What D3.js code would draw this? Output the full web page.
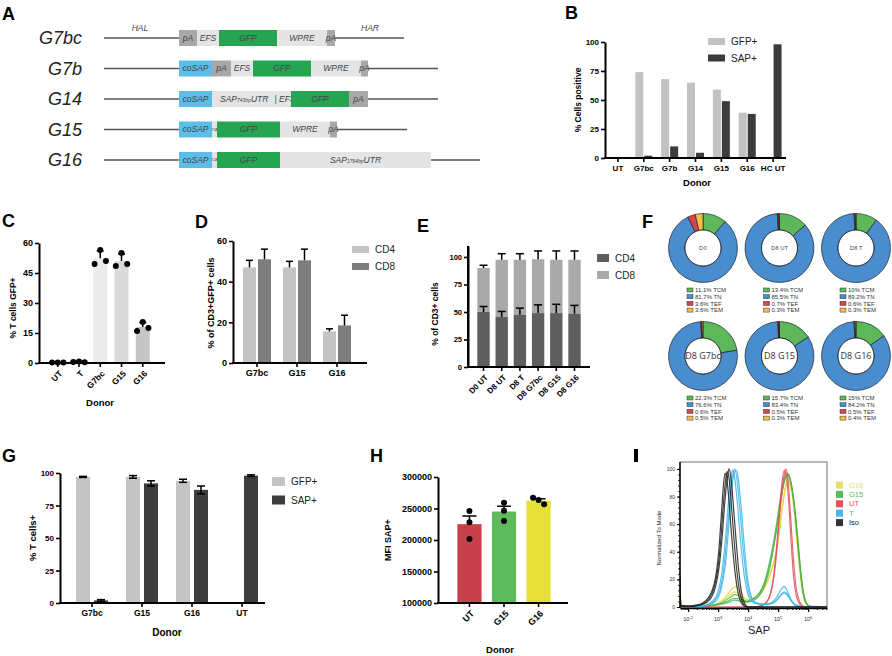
<!DOCTYPE html>
<html>
<head>
<meta charset="utf-8">
<script src="https://cdn.jsdelivr.net/npm/d3@7"></script>
<style>
body { margin: 0; background: #fff; }
svg { display: block; font-family: "Liberation Sans", Arial, sans-serif; }
</style>
</head>
<body>
<svg id="fig" width="892" height="656"></svg>
<script>
// ---------- data ----------
// A: vector maps (segment lengths in arbitrary units)
const constructNames = ["G7bc", "G7b", "G14", "G15", "G16"];
const constructLead = [75, 75, 75, 75, 75];
const constructTrail = [69, 70, 70, 70, 49];
const constructParts = [
  [["pA", "pa", 18], ["EFS", "light", 22], ["GFP", "gfp", 58], ["WPRE", "light", 50], ["pA", "pa", 8]],
  [["coSAP", "sap", 33], ["pA", "pa", 19], ["EFS", "light", 22], ["GFP", "gfp", 58], ["WPRE", "light", 50], ["pA", "pa", 7]],
  [["coSAP", "sap", 33], ["SAP743", "light", 79], ["GFP", "gfp", 58], ["pA", "pa", 19]],
  [["coSAP", "sap", 33], ["T2A", "light", 5], ["GFP", "gfp", 63], ["WPRE", "light", 50], ["pA", "pa", 7]],
  [["coSAP", "sap", 33], ["T2A", "light", 5], ["GFP", "gfp", 63], ["SAP1764", "light", 151]]
];
const armLabels = [["HAL", 36], ["HAR", 266]];

// B
const bCats = ["UT", "G7bc", "G7b", "G14", "G15", "G16", "HC UT"];
const bGfp = [0, 74, 68, 65, 59, 39, 0];
const bSap = [0, 2, 10, 4.5, 49, 38, 98];

// C
const cCats = ["UT", "T", "G7bc", "G15", "G16"];
const cPoints = [[0.3, 0.3, 0.3], [0.5, 0.8, 0.4], [49.5, 56.5, 51], [48.5, 55, 49.5], [16, 20.5, 17.5]];

// D
const dCats = ["G7bc", "G15", "G16"];
const dCd4 = [47, 47, 15.5];
const dCd4Err = [3.5, 3, 1.3];
const dCd8 = [51, 50.5, 18.5];
const dCd8Err = [5, 5.5, 5];

// E
const eCats = ["D0 UT", "D8 UT", "D8 T", "D8 G7bc", "D8 G15", "D8 G16"];
const eCd4 = [50, 45.5, 47.5, 49, 49, 48.5];
const eCd4Err = [5, 5, 6, 7.5, 8, 7.5];
const eCd8 = [40, 52, 50, 49, 48.5, 49];
const eCd8Err = [2.5, 5.5, 5.5, 7.5, 8, 8];

// F
const fSamples = ["D0", "D8 UT", "D8 T", "D8 G7bc", "D8 G15", "D8 G16"];
const fSubsets = ["TCM", "TN", "TEF", "TEM"];
const fTcm = [11.1, 13.4, 10, 22.3, 15.7, 15];
const fTn = [81.7, 85.5, 89.2, 76.6, 83.4, 84.2];
const fTef = [3.6, 0.7, 0.6, 0.6, 0.5, 0.5];
const fTem = [3.6, 0.3, 0.3, 0.5, 0.3, 0.4];

// G
const gCats = ["G7bc", "G15", "G16", "UT"];
const gGfp = [97, 97, 94, 0];
const gGfpErr = [0.4, 1, 1.2, 0];
const gSap = [2, 92, 87, 98];
const gSapErr = [0.6, 2, 3, 0.6];

// H
const hCats = ["UT", "G15", "G16"];
const hPoints = [[246000, 228000, 201600], [259000, 246500, 230000], [267000, 263500, 256700]];

// I: histograms, [log10 SAP, % of mode]
const isoA = [[1.73,22],[1.76,1],[2.0,0.5],[2.3,1.5],[2.5,3],[2.65,6],[2.8,12],[2.92,22],[3.02,40],[3.1,64],[3.17,86],[3.23,97],[3.28,95],[3.35,80],[3.45,52],[3.55,28],[3.65,12],[3.75,4],[3.85,1],[3.95,0],[6.63,0]];
const isoB = [[1.73,14],[1.76,1],[2.0,0.5],[2.3,1],[2.5,2.5],[2.7,6],[2.85,13],[2.98,26],[3.08,46],[3.16,70],[3.24,90],[3.3,98],[3.36,94],[3.43,78],[3.52,52],[3.62,27],[3.72,11],[3.82,3],[3.92,0.5],[4.0,0],[6.63,0]];
const isoC = [[1.73,8],[1.76,0.5],[2.1,0.5],[2.4,1.5],[2.6,3],[2.78,7],[2.92,15],[3.04,30],[3.14,52],[3.22,75],[3.3,92],[3.36,100],[3.42,95],[3.5,76],[3.6,48],[3.7,24],[3.8,8],[3.9,2],[4.0,0],[6.63,0]];
const tA = [[1.73,6],[1.76,0.5],[2.3,0.5],[2.6,1.5],[2.8,4],[2.98,10],[3.12,24],[3.24,48],[3.34,75],[3.42,93],[3.48,99],[3.55,94],[3.64,76],[3.74,50],[3.84,28],[3.94,14],[4.05,6],[4.2,3],[4.4,2],[4.6,2],[4.8,3.5],[4.95,7],[5.08,12],[5.2,15],[5.3,12],[5.42,6],[5.55,2],[5.75,0.5],[6.0,0],[6.63,0]];
const tB = [[1.73,4],[1.76,0.5],[2.4,0.5],[2.7,2],[2.9,5],[3.06,12],[3.2,30],[3.32,58],[3.42,84],[3.5,97],[3.56,100],[3.63,92],[3.72,72],[3.82,46],[3.92,25],[4.02,11],[4.15,5],[4.35,2.5],[4.6,2],[4.85,3],[5.0,6],[5.12,9],[5.22,10],[5.32,8],[5.45,4],[5.6,1],[5.9,0],[6.63,0]];
const tC = [[1.73,3],[1.76,0.5],[2.4,0.5],[2.75,2],[2.95,5],[3.1,13],[3.25,32],[3.37,62],[3.47,88],[3.55,98],[3.62,99],[3.7,88],[3.8,64],[3.9,38],[4.0,18],[4.1,8],[4.25,3],[4.5,2],[4.75,2.5],[4.95,5],[5.1,9],[5.22,11],[5.32,9],[5.45,4],[5.6,1],[5.9,0],[6.63,0]];
const utA = [[1.73,2],[1.76,0],[4.2,0],[4.45,1],[4.6,3],[4.74,9],[4.85,22],[4.95,44],[5.05,70],[5.13,90],[5.2,99],[5.27,96],[5.34,80],[5.42,52],[5.5,26],[5.6,9],[5.72,2],[5.85,0],[6.63,0]];
const utB = [[1.73,1],[1.76,0],[4.25,0],[4.5,1.5],[4.66,5],[4.8,14],[4.92,32],[5.02,58],[5.12,82],[5.2,95],[5.26,100],[5.33,92],[5.41,68],[5.5,38],[5.6,14],[5.72,4],[5.85,0.5],[6.0,0],[6.63,0]];
const g15A = [[1.73,10],[1.76,0.5],[2.4,0.5],[2.9,1.5],[3.2,4],[3.4,7],[3.55,9],[3.7,8],[3.85,5],[3.98,4],[4.12,5],[4.28,8],[4.45,13],[4.6,22],[4.72,33],[4.84,46],[4.96,62],[5.06,77],[5.16,89],[5.24,95],[5.32,96],[5.4,92],[5.48,83],[5.56,70],[5.64,52],[5.72,32],[5.8,16],[5.88,6],[5.98,1.5],[6.1,0],[6.63,0]];
const g15B = [[1.73,5],[1.76,0.5],[2.5,0.5],[3.0,2],[3.3,4],[3.5,6],[3.65,6],[3.8,5],[3.95,4],[4.1,5],[4.25,7],[4.42,11],[4.58,19],[4.72,30],[4.86,45],[4.98,61],[5.1,79],[5.2,91],[5.28,97],[5.36,96],[5.44,89],[5.52,77],[5.6,60],[5.68,40],[5.76,22],[5.84,9],[5.94,2.5],[6.05,0.5],[6.63,0]];
const g15C = [[1.73,3],[1.76,0.5],[2.5,0.5],[3.0,1.5],[3.3,3],[3.55,5],[3.8,4],[4.0,3.5],[4.2,5],[4.4,9],[4.56,16],[4.7,26],[4.84,42],[4.96,58],[5.08,75],[5.18,88],[5.27,94],[5.35,95],[5.43,90],[5.52,78],[5.6,62],[5.68,44],[5.76,25],[5.84,11],[5.94,3],[6.05,0.5],[6.63,0]];
const g16A = [[1.73,30],[1.76,1],[2.4,0.5],[2.9,2],[3.15,5],[3.35,10],[3.5,14],[3.62,15],[3.75,11],[3.9,6],[4.05,5],[4.2,6],[4.38,9],[4.55,14],[4.7,22],[4.84,31],[4.96,42],[5.06,58],[5.15,74],[5.24,87],[5.32,93],[5.4,90],[5.48,80],[5.56,64],[5.64,45],[5.72,27],[5.8,13],[5.9,4],[6.0,1],[6.63,0]];
const g16B = [[1.73,18],[1.76,1],[2.5,0.5],[2.95,2],[3.2,5],[3.4,9],[3.55,11],[3.68,10],[3.82,7],[3.98,5],[4.15,6],[4.32,8],[4.5,12],[4.66,19],[4.8,28],[4.94,40],[5.05,56],[5.15,73],[5.25,86],[5.33,91],[5.41,88],[5.5,77],[5.58,60],[5.66,42],[5.74,25],[5.82,12],[5.92,3.5],[6.02,1],[6.63,0]];
const iLegend = ["G16", "G15", "UT", "T", "Iso"];
const xTickLabelsI = ["-2", "3", "4", "5", "6"];

// ---------- helpers ----------
const FONT = "'Liberation Sans', Arial, sans-serif";
const svg = d3.select("#fig");

function letter(t, x, y) {
  svg.append("text").attr("x", x).attr("y", y)
    .attr("font-size", 18).attr("font-weight", "bold").text(t);
}

function yAxis(scale, x0, ticks, fs) {
  const ax = svg.append("g").attr("transform", `translate(${x0},0)`)
    .call(d3.axisLeft(scale).tickValues(ticks).tickFormat(d3.format("d"))
      .tickSize(4).tickSizeOuter(0).tickPadding(2));
  ax.attr("font-family", FONT);
  ax.select(".domain").attr("stroke-width", 2);
  ax.selectAll(".tick line").attr("stroke-width", 1.6);
  ax.selectAll("text").attr("font-size", fs || 8).attr("font-weight", "bold").attr("fill", "#000");
  return ax;
}

function xAxis(scale, y0, x0, x1, opts) {
  opts = opts || {};
  const ax = svg.append("g").attr("transform", `translate(0,${y0})`)
    .call(d3.axisBottom(scale).tickSize(4).tickSizeOuter(0).tickPadding(opts.pad || 3));
  ax.attr("font-family", FONT);
  ax.select(".domain").remove();
  ax.selectAll(".tick line").attr("stroke-width", 1.6);
  ax.append("line").attr("x1", x0 - 1).attr("x2", x1).attr("stroke", "#000").attr("stroke-width", 2);
  ax.selectAll("text").attr("font-size", opts.fs || 8).attr("font-weight", "bold").attr("fill", "#000");
  if (opts.rotate) {
    ax.selectAll(".tick text").attr("x", 0).attr("y", 0).attr("dy", "0.35em")
      .attr("text-anchor", "end").attr("transform", "translate(3,9) rotate(-45)");
  }
  return ax;
}

function title(t, x, y, fs, rot) {
  svg.append("text").attr("x", x).attr("y", y)
    .attr("transform", rot ? `rotate(-90,${x},${y})` : null)
    .attr("text-anchor", "middle").attr("dominant-baseline", "middle")
    .attr("font-size", fs).attr("font-weight", "bold").text(t);
}

function errBar(x, yFrom, yTo, cap, both, yDown) {
  svg.append("line").attr("x1", x).attr("x2", x).attr("y1", both ? yDown : yFrom).attr("y2", yTo)
    .attr("stroke", "#000").attr("stroke-width", 1.5);
  svg.append("line").attr("x1", x - cap / 2).attr("x2", x + cap / 2).attr("y1", yTo).attr("y2", yTo)
    .attr("stroke", "#000").attr("stroke-width", 1.5);
  if (both) {
    svg.append("line").attr("x1", x - cap / 2).attr("x2", x + cap / 2).attr("y1", yDown).attr("y2", yDown)
      .attr("stroke", "#000").attr("stroke-width", 1.5);
  }
}

function legendBox(items, x, y, step, w, h, fs) {
  items.forEach((it, i) => {
    svg.append("rect").attr("x", x).attr("y", y + i * step - h / 2).attr("width", w).attr("height", h).attr("fill", it[1]);
    svg.append("text").attr("x", x + w + 6).attr("y", y + i * step).attr("dy", "0.35em")
      .attr("font-size", fs).attr("fill", "#222").text(it[0]);
  });
}

// spread dots horizontally when any pair in a column overlaps
function dotOffsets(ys, r, gap) {
  let clash = false;
  for (let i = 0; i < ys.length; i++)
    for (let j = i + 1; j < ys.length; j++)
      if (Math.abs(ys[i] - ys[j]) < 2 * r + 0.5) clash = true;
  return ys.map((d, i) => clash ? (i - (ys.length - 1) / 2) * gap : 0);
}

// ---------- A ----------
letter("A", 2, 20);
const xA = d3.scaleLinear().domain([0, 376]).range([104, 480]);
const yA = d3.scalePoint().domain(constructNames).range([38, 160]);
const partColor = { pa: "#a8a8a8", light: "#e4e4e4", gfp: "#25a552", sap: "#5dbde9" };

constructNames.forEach((name, i) => {
  const cy = yA(name);
  const total = constructLead[i] + d3.sum(constructParts[i], p => p[2]) + constructTrail[i];
  svg.append("line").attr("x1", xA(0)).attr("x2", xA(total)).attr("y1", cy).attr("y2", cy)
    .attr("stroke", "#555").attr("stroke-width", 1.5);
  let pos = constructLead[i];
  constructParts[i].forEach(p => {
    const x0 = xA(pos), x1 = xA(pos + p[2]);
    svg.append("rect").attr("x", x0).attr("y", cy - 8).attr("width", x1 - x0).attr("height", 16)
      .attr("fill", partColor[p[1]]);
    const t = svg.append("text").attr("y", cy).attr("dy", "0.35em").attr("font-style", "italic")
      .attr("font-size", 8.5).attr("fill", "#444");
    if (p[0] === "T2A") {
      t.attr("x", (x0 + x1) / 2).attr("text-anchor", "middle").attr("font-size", 3.5).text("T2A");
    } else if (p[0] === "SAP743") {
      t.attr("x", x0 + 8);
      t.append("tspan").text("SAP");
      t.append("tspan").attr("font-size", 5).text("743bp");
      t.append("tspan").text("UTR");
      t.append("tspan").attr("dx", 6).text("| EFS");
    } else if (p[0] === "SAP1764") {
      t.attr("x", (x0 + x1) / 2).attr("text-anchor", "middle");
      t.append("tspan").text("SAP");
      t.append("tspan").attr("font-size", 5).text("1764bp");
      t.append("tspan").text("UTR");
    } else {
      t.attr("x", (x0 + x1) / 2).attr("text-anchor", "middle").text(p[0]);
    }
    pos += p[2];
  });
  svg.append("text").attr("x", 82).attr("y", cy).attr("dy", "0.35em").attr("text-anchor", "end")
    .attr("font-style", "italic").attr("font-size", 18).attr("fill", "#222").text(name);
});
armLabels.forEach(a => {
  svg.append("text").attr("x", xA(a[1])).attr("y", yA("G7bc") - 7).attr("text-anchor", "middle")
    .attr("font-style", "italic").attr("font-size", 8.5).attr("fill", "#444").text(a[0]);
});

// ---------- B ----------
letter("B", 565, 19);
const xB = d3.scaleBand().domain(bCats).range([605, 786]);
const yB = d3.scaleLinear().domain([0, 100]).range([158, 42]);
bCats.forEach((c, i) => {
  const cx = xB(c) + xB.bandwidth() / 2;
  svg.append("rect").attr("x", cx - 8.5).attr("width", 8).attr("y", yB(bGfp[i])).attr("height", yB(0) - yB(bGfp[i])).attr("fill", "#c2c2c2");
  svg.append("rect").attr("x", cx + 0.5).attr("width", 8).attr("y", yB(bSap[i])).attr("height", yB(0) - yB(bSap[i])).attr("fill", "#3c3c3c");
});
yAxis(yB, 605, [0, 25, 50, 75, 100]);
xAxis(xB, 158, 605, 786);
title("% Cells positive", 579, 100, 8.5, true);
title("Donor", 697, 183, 9.5);
legendBox([["GFP+", "#c2c2c2"], ["SAP+", "#3c3c3c"]], 708, 41.5, 16.5, 17, 7, 10);

// ---------- C ----------
letter("C", 2, 227);
const xC = d3.scaleBand().domain(cCats).range([43.5, 157]).padding(0.34);
const yC = d3.scaleLinear().domain([0, 60]).range([363, 243]);
const cColor = d3.scaleOrdinal().domain(cCats).range(["#eeeeee", "#eeeeee", "#ebebeb", "#dadada", "#c6c6c6"]);
cCats.forEach((c, i) => {
  const m = d3.mean(cPoints[i]), sd = d3.deviation(cPoints[i]);
  const cx = xC(c) + xC.bandwidth() / 2;
  svg.append("rect").attr("x", xC(c)).attr("width", xC.bandwidth()).attr("y", yC(m)).attr("height", yC(0) - yC(m)).attr("fill", cColor(c));
  if (m > 2) errBar(cx, yC(m), yC(m + sd), 7);
  const ys = cPoints[i].map(v => yC(v));
  const off = dotOffsets(ys, 3, 5.7);
  cPoints[i].forEach((v, j) => {
    svg.append("circle").attr("cx", cx + off[j]).attr("cy", yC(v)).attr("r", 3).attr("fill", "#000");
  });
});
yAxis(yC, 39, [0, 15, 30, 45, 60], 9);
xAxis(xC, 363, 39, 165, { rotate: true, fs: 8.5 });
title("% T cells GFP+", 14, 308, 8.5, true);
title("Donor", 100, 403, 9.5);

// ---------- D ----------
letter("D", 195, 228);
const xD = d3.scaleBand().domain(dCats).range([237, 357]);
const yD = d3.scaleLinear().domain([0, 60]).range([363, 241]);
dCats.forEach((c, i) => {
  const cx = xD(c) + xD.bandwidth() / 2;
  svg.append("rect").attr("x", cx - 14).attr("width", 13).attr("y", yD(dCd4[i])).attr("height", yD(0) - yD(dCd4[i])).attr("fill", "#c4c4c4");
  svg.append("rect").attr("x", cx + 1).attr("width", 13).attr("y", yD(dCd8[i])).attr("height", yD(0) - yD(dCd8[i])).attr("fill", "#7d7d7d");
  errBar(cx - 7.5, yD(dCd4[i]), yD(dCd4[i] + dCd4Err[i]), 7);
  errBar(cx + 7.5, yD(dCd8[i]), yD(dCd8[i] + dCd8Err[i]), 7);
});
yAxis(yD, 233, [0, 20, 40, 60], 9);
xAxis(xD, 363, 233, 367, { fs: 9 });
title("% of CD3+GFP+ cells", 212, 303, 9, true);
legendBox([["CD4", "#c4c4c4"], ["CD8", "#7d7d7d"]], 352, 249.5, 17, 17, 7, 10);

// ---------- E ----------
letter("E", 417, 232);
const xE = d3.scaleBand().domain(eCats).range([471.5, 586.5]).padding(0.32);
const yE = d3.scaleLinear().domain([0, 110]).range([367, 246]);
eCats.forEach((c, i) => {
  const cx = xE(c) + xE.bandwidth() / 2;
  const tot = eCd4[i] + eCd8[i];
  svg.append("rect").attr("x", xE(c)).attr("width", xE.bandwidth()).attr("y", yE(tot)).attr("height", yE(eCd4[i]) - yE(tot)).attr("fill", "#a9a9a9");
  svg.append("rect").attr("x", xE(c)).attr("width", xE.bandwidth()).attr("y", yE(eCd4[i])).attr("height", yE(0) - yE(eCd4[i])).attr("fill", "#5e5e5e");
  errBar(cx, yE(eCd4[i]), yE(eCd4[i] + eCd4Err[i]), 8);
  errBar(cx, yE(tot), yE(tot + eCd8Err[i]), 8);
});
svg.append("line").attr("x1", 468).attr("x2", 468).attr("y1", yE(0)).attr("y2", yE(110)).attr("stroke", "#000").attr("stroke-width", 2);
yAxis(yE, 468, [0, 25, 50, 75, 100], 7.5);
xAxis(xE, 367, 468, 590, { rotate: true, fs: 8 });
title("% of CD3+ cells", 436, 314, 8.5, true);
legendBox([["CD4", "#5e5e5e"], ["CD8", "#a9a9a9"]], 597, 258, 17, 12, 8, 10);

// ---------- F ----------
letter("F", 642, 228);
const fColor = d3.scaleOrdinal().domain(fSubsets).range(["#5cb85b", "#4a8dcf", "#d8434c", "#f4be48"]);
const xF = d3.scalePoint().domain([0, 1, 2]).range([703, 856]);
const yF = d3.scalePoint().domain([0, 1]).range([248, 356]);
const pie = d3.pie().sort(null).value(d => d[1]);
const arcF = d3.arc().innerRadius(18).outerRadius(34.5);
fSamples.forEach((s, i) => {
  const cx = xF(i % 3), cy = yF(Math.floor(i / 3));
  const vals = [fTcm[i], fTn[i], fTef[i], fTem[i]];
  const d = fSubsets.map((k, j) => [k, vals[j]]);
  const g = svg.append("g").attr("transform", `translate(${cx},${cy})`);
  g.selectAll("path").data(pie(d)).enter().append("path")
    .attr("d", arcF).attr("fill", p => fColor(p.data[0])).attr("stroke", "#111").attr("stroke-width", 0.6);
  g.append("circle").attr("r", 18).attr("fill", "#fff").attr("stroke", "#111").attr("stroke-width", 0.8);
  g.append("text").attr("text-anchor", "middle").attr("dy", "0.35em")
    .attr("font-size", i < 3 ? 6 : 9).attr("fill", "#333").attr("font-family", "'Open Sans', sans-serif").text(s);
  d.forEach((p, j) => {
    const ly = cy + 42 + j * 6.7;
    svg.append("rect").attr("x", cx - 16).attr("y", ly - 2).attr("width", 6).attr("height", 4)
      .attr("fill", fColor(p[0])).attr("stroke", "#333").attr("stroke-width", 0.5);
    svg.append("text").attr("x", cx - 8).attr("y", ly).attr("dy", "0.35em").attr("font-size", 6)
      .attr("fill", "#333").text(p[1] + "% " + p[0]);
  });
});

// ---------- G ----------
letter("G", 2, 462);
const xG = d3.scaleBand().domain(gCats).range([67, 267]);
const yG = d3.scaleLinear().domain([0, 100]).range([603, 473]);
gCats.forEach((c, i) => {
  const cx = xG(c) + xG.bandwidth() / 2;
  if (gGfp[i] > 0) {
    svg.append("rect").attr("x", cx - 16).attr("width", 14).attr("y", yG(gGfp[i])).attr("height", yG(0) - yG(gGfp[i])).attr("fill", "#c4c4c4");
    errBar(cx - 9, yG(gGfp[i]), yG(gGfp[i] + gGfpErr[i]), 8, true, yG(gGfp[i] - gGfpErr[i]));
  }
  svg.append("rect").attr("x", cx + 2).attr("width", 14).attr("y", yG(gSap[i])).attr("height", yG(0) - yG(gSap[i])).attr("fill", "#3e3e3e");
  errBar(cx + 9, yG(gSap[i]), yG(gSap[i] + gSapErr[i]), 8, true, yG(gSap[i] - gSapErr[i]));
});
yAxis(yG, 60, [0, 25, 50, 75, 100]);
xAxis(xG, 603, 60, 265, { fs: 8.5 });
title("% T cells+", 33, 538, 9.5, true);
title("Donor", 167, 633, 10);
legendBox([["GFP+", "#c4c4c4"], ["SAP+", "#3e3e3e"]], 272, 481.5, 18.5, 13, 9, 10);

// ---------- H ----------
letter("H", 370, 462);
const xH = d3.scaleBand().domain(hCats).range([447, 561]).padding(0.3);
const yH = d3.scaleLinear().domain([100000, 300000]).range([603, 477]);
const hColor = d3.scaleOrdinal().domain(hCats).range(["#c9404b", "#5dba5d", "#e5df38"]);
hCats.forEach((c, i) => {
  const m = d3.mean(hPoints[i]), sem = d3.deviation(hPoints[i]) / Math.sqrt(hPoints[i].length);
  const cx = xH(c) + xH.bandwidth() / 2;
  svg.append("rect").attr("x", xH(c)).attr("width", xH.bandwidth()).attr("y", yH(m)).attr("height", yH(100000) - yH(m)).attr("fill", hColor(c));
  errBar(cx, yH(m), yH(m + sem), 14);
  const ys = hPoints[i].map(v => yH(v));
  const off = dotOffsets(ys, 3, 5.5);
  hPoints[i].forEach((v, j) => {
    svg.append("circle").attr("cx", cx + off[j]).attr("cy", yH(v)).attr("r", 3).attr("fill", "#000");
  });
});
yAxis(yH, 438, [100000, 150000, 200000, 250000, 300000], 9);
xAxis(xH, 603, 438, 568, { rotate: true, fs: 9 });
title("MFI SAP+", 389, 540, 9, true);
title("Donor", 500, 650, 9.5);

// ---------- I ----------
svg.append("rect").attr("x", 634).attr("y", 449).attr("width", 4).attr("height", 13).attr("fill", "#000");
const xI = d3.scaleLog().domain([10 ** 1.73, 10 ** 6.63]).range([680, 827]);
const yI = d3.scaleLinear().domain([0, 105]).range([607, 462]);
svg.append("defs").append("clipPath").attr("id", "clipI").append("rect")
  .attr("x", 680).attr("y", 462).attr("width", 147).attr("height", 146);
const lineI = d3.line().x(d => xI(10 ** d[0])).y(d => yI(d[1])).curve(d3.curveMonotoneX);
const histGroups = [
  [[g16A, g16B], "#dedb3a"],
  [[g15A, g15B, g15C], "#4bb54b"],
  [[utA, utB], "#e0505a"],
  [[tA, tB, tC], "#3db5e8"],
  [[isoA, isoB, isoC], "#222222"]
];
const gI = svg.append("g").attr("clip-path", "url(#clipI)");
histGroups.forEach(h => {
  h[0].forEach(curve => {
    gI.append("path").attr("d", lineI(curve)).attr("fill", "none").attr("stroke", h[1])
      .attr("stroke-width", 1.2).attr("stroke-opacity", 0.85);
  });
});
svg.append("rect").attr("x", 680).attr("y", 462).attr("width", 147).attr("height", 146)
  .attr("fill", "none").attr("stroke", "#333").attr("stroke-width", 0.7);
// y axis with minor ticks
const yAxI = svg.append("g").attr("transform", "translate(680,0)")
  .call(d3.axisLeft(yI).tickValues(d3.range(0, 101, 20)).tickSize(3).tickPadding(2).tickSizeOuter(0));
yAxI.attr("font-family", FONT);
yAxI.select(".domain").remove();
yAxI.selectAll("text").attr("font-size", 5).attr("fill", "#333");
svg.append("g").attr("transform", "translate(680,0)")
  .call(d3.axisLeft(yI).tickValues(d3.range(0, 101, 4)).tickSize(1.8).tickFormat("").tickSizeOuter(0))
  .call(g => g.select(".domain").remove())
  .selectAll("line").attr("stroke-width", 0.9);
svg.append("line").attr("x1", 680).attr("x2", 680).attr("y1", 462).attr("y2", 608).attr("stroke", "#000").attr("stroke-width", 1.4);
// x axis with log minor ticks
const majorI = [1e2, 1e3, 1e4, 1e5, 1e6];
const minorI = [];
[1e1, 1e2, 1e3, 1e4, 1e5, 1e6].forEach(dec => { for (let k = 2; k <= 9; k++) if (dec * k > 10 ** 1.73 && dec * k < 10 ** 6.63) minorI.push(dec * k); });
const xAxI = svg.append("g").attr("transform", "translate(0,608)")
  .call(d3.axisBottom(xI).tickValues(majorI).tickSize(4).tickSizeOuter(0).tickFormat(""));
xAxI.select(".domain").attr("stroke-width", 1.6);
xAxI.selectAll(".tick line").attr("stroke-width", 1.2);
svg.append("g").attr("transform", "translate(0,608)")
  .call(d3.axisBottom(xI).tickValues(minorI).tickSize(2).tickSizeOuter(0).tickFormat(""))
  .call(g => g.select(".domain").remove());
majorI.forEach((v, i) => {
  const t = svg.append("text").attr("x", xI(v)).attr("y", 621).attr("text-anchor", "middle")
    .attr("font-size", 5.5).attr("fill", "#333");
  t.append("tspan").text("10");
  t.append("tspan").attr("font-size", 4).attr("dy", -2.5).text(xTickLabelsI[i]);
});
svg.append("text").attr("x", 659).attr("y", 538).attr("transform", "rotate(-90,659,538)")
  .attr("text-anchor", "middle").attr("dominant-baseline", "middle").attr("font-size", 6).attr("fill", "#222")
  .text("Normalized To Mode");
svg.append("text").attr("x", 759).attr("y", 631).attr("text-anchor", "middle").attr("dominant-baseline", "middle")
  .attr("font-size", 11).attr("fill", "#222").text("SAP");
const iColor = d3.scaleOrdinal().domain(iLegend).range(["#e3e068", "#58bd58", "#e8505a", "#45b8ea", "#333333"]);
iLegend.forEach((k, i) => {
  const ly = 485 + i * 9.4;
  svg.append("rect").attr("x", 836).attr("y", ly - 3.5).attr("width", 7).attr("height", 7).attr("fill", iColor(k));
  svg.append("text").attr("x", 849).attr("y", ly).attr("dy", "0.35em").attr("font-size", 7.5)
    .attr("fill", k === "Iso" ? "#222" : iColor(k)).text(k);
});
</script>
</body>
</html>
